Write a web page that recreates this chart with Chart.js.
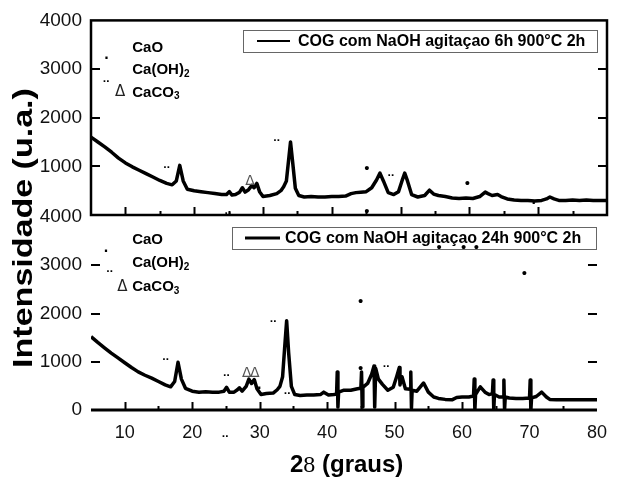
<!DOCTYPE html>
<html>
<head>
<meta charset="utf-8">
<script src="https://cdn.jsdelivr.net/npm/chart.js@4.4.0/dist/chart.umd.min.js"></script>
<style>
  html, body { margin: 0; padding: 0; background: #fff; }
  #wrap { position: relative; width: 619px; height: 479px; }
  #wrap canvas { position: absolute; left: 0; top: 0; }
</style>
</head>
<body>
<div id="wrap">
  <canvas id="chart-6h" width="619" height="479"></canvas>
  <canvas id="chart-24h" width="619" height="479"></canvas>
</div>
<script>
// --- data ---
const ANGLE_6H = [5, 6, 7, 8, 9, 10, 11, 12, 13, 14, 15, 16, 16.8, 17.4, 17.9, 18.4, 19, 20, 21, 22, 23, 24, 24.7, 25.1, 25.5, 26, 26.6, 27.0, 27.4, 27.9, 28.4, 28.7, 29.1, 29.5, 30, 31, 32, 32.6, 33.0, 33.4, 33.7, 34.0, 34.3, 34.7, 35.2, 36, 37, 38, 39, 40, 41, 42, 42.8, 43.5, 44.2, 45, 45.8, 46.5, 47.0, 47.5, 48.2, 49, 49.7, 50.2, 50.6, 51.0, 51.6, 52.5, 53.5, 54.2, 54.8, 55.5, 56.5, 57.5, 58.5, 59.5, 60.5, 61.5, 62.3, 62.7, 63.3, 64.1, 64.6, 65.5, 66.5, 67.5, 68.5, 69.5, 70.5, 71.2, 71.7, 72.3, 73, 74, 75, 76, 77, 78, 79, 80];
const COUNTS_6H = [1600, 1500, 1400, 1290, 1170, 1070, 990, 920, 850, 780, 710, 650, 620, 700, 1020, 700, 530, 500, 480, 460, 440, 420, 420, 480, 410, 420, 470, 560, 470, 520, 610, 560, 650, 480, 380, 400, 440, 500, 580, 700, 1100, 1500, 1100, 550, 400, 370, 380, 370, 370, 380, 380, 390, 440, 460, 470, 480, 560, 720, 860, 700, 460, 420, 480, 700, 860, 700, 420, 370, 400, 510, 430, 400, 380, 350, 340, 350, 340, 380, 470, 440, 400, 420, 380, 330, 310, 300, 300, 290, 300, 330, 370, 330, 300, 300, 310, 300, 310, 300, 300, 300];

const ANGLE_24H = [5, 6, 7, 8, 9, 10, 11, 12, 13, 14, 15, 16, 16.8, 17.4, 17.9, 18.4, 19, 20, 21, 22, 23, 24, 24.7, 25.1, 25.5, 26.2, 26.7, 27.0, 27.4, 28.0, 28.4, 28.8, 29.2, 29.6, 30.2, 31, 32, 32.6, 33.0, 33.4, 33.7, 34.0, 34.3, 34.7, 35.2, 36, 37, 38, 39, 39.5, 40.2, 41, 41.4, 41.5, 41.6, 41.7, 42.5, 43.5, 44.5, 45.0, 45.1, 45.2, 45.3, 46.0, 46.6, 46.95, 47.05, 47.2, 47.6, 48.2, 49, 49.8, 50.3, 50.7, 50.8, 51.1, 51.6, 52.3, 52.4, 52.5, 52.6, 53.3, 54.3, 55.0, 55.8, 56.5, 57.5, 58.5, 59.2, 60, 61, 61.7, 61.8, 61.9, 62.0, 62.7, 63.4, 64.0, 64.5, 64.6, 64.7, 64.8, 65.5, 66.1, 66.2, 66.3, 66.4, 67, 68, 69, 70.0, 70.1, 70.2, 70.3, 71, 71.8, 72.5, 73, 74, 75, 76, 77, 78, 79, 80];
const COUNTS_24H = [1520, 1400, 1290, 1180, 1080, 980, 880, 790, 720, 660, 590, 520, 480, 590, 990, 640, 450, 390, 370, 380, 370, 370, 390, 470, 370, 370, 420, 460, 390, 490, 640, 550, 630, 440, 320, 340, 350, 420, 490, 690, 1280, 1850, 1180, 490, 320, 300, 310, 310, 320, 370, 310, 320, 330, 790, 60, 370, 410, 410, 440, 450, 790, 60, 470, 550, 740, 910, 60, 860, 640, 530, 410, 470, 690, 880, 520, 690, 440, 430, 790, 40, 410, 390, 560, 370, 270, 240, 220, 210, 260, 270, 270, 290, 640, 0, 320, 480, 370, 320, 340, 620, 0, 320, 270, 270, 620, 0, 270, 250, 240, 240, 250, 620, 0, 250, 280, 370, 270, 220, 210, 210, 210, 210, 210, 210, 210];

const X_RANGE = [5, 80];
const Y_RANGE = [0, 4000];
const X_LABELS = [10, 20, 30, 40, 50, 60, 70, 80];
const Y_LABELS_6H = [1000, 2000, 3000, 4000];
const Y_LABELS_24H = [0, 1000, 2000, 3000, 4000];

const SERIES_6H = 'COG com NaOH agitaçao 6h 900°C 2h';
const SERIES_24H = 'COG com NaOH agitaçao 24h 900°C 2h';

// phase markers placed at (2θ, intensity)
const MARKS_6H = [
  { x: 16.0, y: 860, s: '¨' }, { x: 32.0, y: 1415, s: '¨' }, { x: 28.1, y: 700, s: 'Δ' },
  { x: 45.1, y: 945, s: '•' }, { x: 48.6, y: 680, s: '¨' }, { x: 59.7, y: 640, s: '•' },
  { x: 45.1, y: 60, s: '•' }, { x: 69.4, y: 225, s: '·' }, { x: 24.9, y: -100, s: '¨' },
  { x: 7.3, y: 3220, s: '·' }, { x: 7.2, y: 2625, s: '¨' }
];
const MARKS_24H = [
  { x: 16.05, y: 912, s: '¨' }, { x: 25.06, y: 580, s: '¨' }, { x: 28.1, y: 767, s: 'Δ' },
  { x: 29.27, y: 767, s: 'Δ' }, { x: 30.0, y: 435, s: '·' }, { x: 32.0, y: 1700, s: '¨' },
  { x: 34.07, y: 207, s: '¨' }, { x: 24.9, y: -684, s: '¨' }, { x: 44.97, y: 2238, s: '•' },
  { x: 44.97, y: 850, s: '•' }, { x: 48.75, y: 767, s: '¨' }, { x: 56.6, y: 3358, s: '•' },
  { x: 60.23, y: 3358, s: '•' }, { x: 62.12, y: 3358, s: '•' }, { x: 69.24, y: 2819, s: '•' },
  { x: 7.3, y: 3275, s: '·' }, { x: 7.76, y: 2735, s: '¨' }
];

// phase key (left-aligned text), sub = subscript part
const KEY_6H = [
  { x: 11.0, y: 3430, t: 'CaO' }, { x: 11.0, y: 2980, t: 'Ca(OH)', sub: '2' },
  { x: 8.5, y: 2520, t: 'Δ', sym: true }, { x: 11.0, y: 2520, t: 'CaCO', sub: '3' }
];
const KEY_24H = [
  { x: 11.1, y: 3523, t: 'CaO' }, { x: 11.1, y: 3047, t: 'Ca(OH)', sub: '2' },
  { x: 8.9, y: 2549, t: 'Δ', sym: true }, { x: 11.1, y: 2549, t: 'CaCO', sub: '3' }
];

const SANS = "'Liberation Sans', Arial, sans-serif";
const SERIF = "'Liberation Serif', 'Times New Roman', serif";
Chart.defaults.font.family = SANS;
Chart.defaults.color = '#000';

const toPoints = (xs, ys) => xs.map((x, i) => ({ x, y: ys[i] }));

// frame + inward tick marks
const xrdFrame = {
  id: 'xrdFrame',
  afterDraw(chart, args, o) {
    const { ctx, chartArea: a, scales: { x, y } } = chart;
    ctx.save();
    ctx.strokeStyle = '#000';
    ctx.lineCap = 'butt';
    if (o.box) {
      ctx.lineWidth = 2.5;
      ctx.strokeRect(a.left, a.top, a.right - a.left, a.bottom - a.top);
    } else {
      ctx.lineWidth = 3;
      ctx.beginPath(); ctx.moveTo(a.left, a.bottom); ctx.lineTo(a.right, a.bottom); ctx.stroke();
    }
    ctx.lineWidth = 2;
    ctx.beginPath();
    x.ticks.forEach(t => {
      if (t.value === x.min || t.value === x.max) return;
      const px = Math.round(x.getPixelForValue(t.value)) + 0.5;
      const len = t.value % 10 === 0 ? 8 : 4;
      ctx.moveTo(px, a.bottom); ctx.lineTo(px, a.bottom - len);
    });
    y.ticks.forEach(t => {
      if (t.value === y.min || t.value === y.max) return;
      const py = Math.round(y.getPixelForValue(t.value));
      const len = t.value % 1000 === 0 ? 9 : 4;
      ctx.moveTo(a.left, py); ctx.lineTo(a.left + len, py);
      ctx.moveTo(a.right, py); ctx.lineTo(a.right - len, py);
    });
    ctx.stroke();
    ctx.restore();
  }
};

// boxed legend with a line sample
const boxLegend = {
  id: 'boxLegend',
  afterDraw(chart, args, o) {
    const { ctx } = chart;
    const label = chart.data.datasets[0].label;
    const midY = o.top + o.height / 2;
    ctx.save();
    ctx.strokeStyle = '#666';
    ctx.lineWidth = 1;
    ctx.strokeRect(o.left + 0.5, o.top + 0.5, o.width, o.height);
    ctx.strokeStyle = '#000';
    ctx.lineWidth = o.sample;
    ctx.beginPath(); ctx.moveTo(o.left + o.lineFrom, midY); ctx.lineTo(o.left + o.lineTo, midY); ctx.stroke();
    ctx.fillStyle = '#000';
    ctx.font = 'bold 16px ' + SANS;
    ctx.textBaseline = 'middle';
    ctx.fillText(label, o.left + o.textAt, midY + 1);
    ctx.restore();
  }
};

// phase markers and key text
const phaseMarks = {
  id: 'phaseMarks',
  afterDraw(chart, args, o) {
    const { ctx, scales: { x, y } } = chart;
    ctx.save();
    ctx.fillStyle = '#000';
    ctx.textBaseline = 'middle';
    ctx.textAlign = 'center';
    o.marks.forEach(m => {
      const px = x.getPixelForValue(m.x), py = y.getPixelForValue(m.y);
      if (m.s === 'Δ') { ctx.font = '14px DejaVu Sans'; ctx.fillStyle = '#555'; }
      else if (m.s === '•') { ctx.font = '15px ' + SANS; ctx.fillStyle = '#000'; }
      else { ctx.font = 'bold 16px ' + SANS; ctx.fillStyle = '#000'; }
      ctx.fillText(m.s, px, py);
    });
    ctx.textAlign = 'left';
    o.key.forEach(k => {
      const px = x.getPixelForValue(k.x), py = y.getPixelForValue(k.y);
      ctx.fillStyle = k.sym ? '#222' : '#000';
      ctx.font = k.sym ? '15px DejaVu Sans' : 'bold 15px ' + SANS;
      ctx.fillText(k.t, px, py);
      if (k.sub) {
        const w = ctx.measureText(k.t).width;
        ctx.font = 'bold 10px ' + SANS;
        ctx.fillText(k.sub, px + w, py + 4);
      }
    });
    ctx.restore();
  }
};

// axis titles (mixed fonts, so drawn by hand)
const axisTitles = {
  id: 'axisTitles',
  afterDraw(chart) {
    const { ctx } = chart;
    ctx.save();
    ctx.fillStyle = '#000';
    ctx.textBaseline = 'alphabetic';
    // x title: 2θ shown as "28" in the source figure
    let cx = 290;
    const parts = [['2', 'bold 24px ' + SANS], ['8', '24px ' + SERIF], [' (graus)', 'bold 24px ' + SANS]];
    parts.forEach(([t, f]) => { ctx.font = f; ctx.fillText(t, cx, 472); cx += ctx.measureText(t).width; });
    // y title, rotated and stretched like the source
    ctx.translate(32, 228);
    ctx.rotate(-Math.PI / 2);
    ctx.scale(1.26, 1);
    ctx.font = 'bold 27px ' + SANS;
    ctx.textAlign = 'center';
    ctx.fillText('Intensidade (u.a.)', 0, 0);
    ctx.restore();
  }
};

const baseDataset = (label, pts) => ({
  label, data: pts, borderColor: '#000', borderWidth: 3.5, pointRadius: 0,
  tension: 0, fill: false, borderJoinStyle: 'round'
});

const yScale = (labels) => ({
  type: 'linear', min: Y_RANGE[0], max: Y_RANGE[1],
  afterFit: s => { s.width = 91; },
  grid: { display: false, drawTicks: false },
  border: { display: false },
  ticks: {
    stepSize: 500, padding: 9, color: '#111', font: { size: 19 },
    callback: v => labels.includes(v) ? String(v) : ''
  }
});

new Chart(document.getElementById('chart-6h'), {
  type: 'line',
  data: { datasets: [baseDataset(SERIES_6H, toPoints(ANGLE_6H, COUNTS_6H))] },
  options: {
    responsive: false, animation: false, events: [],
    layout: { padding: { top: 20, right: 12, bottom: 264, left: 0 } },
    plugins: {
      legend: { display: false }, tooltip: { enabled: false },
      xrdFrame: { box: true },
      boxLegend: { left: 243, top: 30, width: 354, height: 22, sample: 2, lineFrom: 14, lineTo: 47, textAt: 55 },
      phaseMarks: { marks: MARKS_6H, key: KEY_6H }
    },
    scales: {
      x: { type: 'linear', display: false, min: X_RANGE[0], max: X_RANGE[1], ticks: { stepSize: 5 } },
      y: yScale(Y_LABELS_6H)
    }
  },
  plugins: [xrdFrame, boxLegend, phaseMarks]
});

new Chart(document.getElementById('chart-24h'), {
  type: 'line',
  data: { datasets: [baseDataset(SERIES_24H, toPoints(ANGLE_24H, COUNTS_24H))] },
  options: {
    responsive: false, animation: false, events: [],
    layout: { padding: { top: 217, right: 12, bottom: 0, left: 0 } },
    plugins: {
      legend: { display: false }, tooltip: { enabled: false },
      xrdFrame: { box: false },
      boxLegend: { left: 232, top: 227, width: 364, height: 22, sample: 3, lineFrom: 13, lineTo: 48, textAt: 53 },
      phaseMarks: { marks: MARKS_24H, key: KEY_24H }
    },
    scales: {
      x: {
        type: 'linear', min: X_RANGE[0], max: X_RANGE[1],
        afterFit: s => { s.height = 69; },
        grid: { display: false, drawTicks: false },
        border: { display: false },
        ticks: {
          stepSize: 5, padding: 12, color: '#111', font: { size: 18 }, maxRotation: 0, autoSkip: false,
          callback: v => X_LABELS.includes(v) ? String(v) : ''
        }
      },
      y: yScale(Y_LABELS_24H)
    }
  },
  plugins: [xrdFrame, boxLegend, phaseMarks, axisTitles]
});
</script>
</body>
</html>
